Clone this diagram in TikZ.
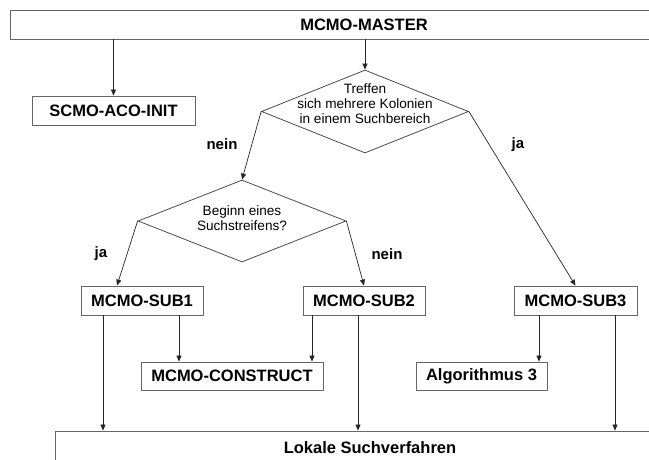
\documentclass[tikz,border=0pt]{standalone}
\usepackage{fontspec}
\setmainfont{Liberation Sans}
\usetikzlibrary{shapes.geometric,arrows.meta}

\begin{document}
\begin{tikzpicture}[x=1pt, y=-1pt,
		kasten/.style={draw=black!60, line width=0.8pt, inner sep=0pt, minimum height=29pt, font=\bfseries\fontsize{16.5}{19}\selectfont},
		raute/.style={draw=black!70, line width=0.8pt, shape=diamond, inner sep=0pt},
		rautetext/.style={align=center, font=\fontsize{13.6}{15}\selectfont},
		antwort/.style={font=\bfseries\fontsize{15}{18}\selectfont},
		pfeil/.style={draw=black!85, line width=0.7pt, -{Triangle[width=5pt,length=6pt]}}]
		
		\useasboundingbox (0,0) rectangle (649,460);
		
		% Hauptmodul oben und lokale Suche unten (laufen über den Rand hinaus)
		\node[kasten, minimum width=708pt] (master) at (364,24.5) {MCMO-MASTER};
		\node[kasten, minimum width=630pt, minimum height=34pt] (lokale) at (370,448) {Lokale Suchverfahren};
		
		% Initialisierung
		\node[kasten, minimum width=163pt] (init) at (113.5,110.5) {SCMO-ACO-INIT};
		
		% Entscheidungen
		\node[raute, minimum width=207pt, minimum height=83pt,
			label={[rautetext, yshift=8pt]center:Treffen\\sich mehrere Kolonien\\in einem Suchbereich}] (treffen) at (365,111.5) {};
		\node[raute, minimum width=208pt, minimum height=82pt,
			label={[rautetext, yshift=3pt]center:Beginn eines\\Suchstreifens?}] (beginn) at (242,221) {};
		
		% Untermodule
		\node[kasten, minimum width=122pt] (sub1) at (142,300.5) {MCMO-SUB1};
		\node[kasten, minimum width=122pt] (sub2) at (364,300.5) {MCMO-SUB2};
		\node[kasten, minimum width=123pt] (sub3) at (575.5,300.5) {MCMO-SUB3};
		\node[kasten, minimum width=182pt, minimum height=28pt] (construct) at (232,376) {MCMO-CONSTRUCT};
		\node[kasten, minimum width=131pt, minimum height=28pt] (alg3) at (481.5,376) {Algorithmus 3};
		
		% Antworten an den Kanten
		\node[antwort] (nein1) at (222,144) {nein};
		\node[antwort] (ja1) at (518,145) {ja};
		\node[antwort] (ja2) at (101,254) {ja};
		\node[antwort] (nein2) at (387,254) {nein};
		
		% Verbindungen
		\draw[pfeil] (master.south -| init.north) -- (init.north);
		\draw[pfeil] (master.south -| treffen.north) -- (treffen.north);
		\draw[pfeil] (treffen.west) -- (beginn.north);
		\draw[pfeil] (treffen.east) -- (sub3.north);
		\draw[pfeil] (beginn.west) -- ([xshift=-25pt]sub1.north);
		\draw[pfeil] (beginn.east) -- (sub2.north);
		
		\draw[pfeil] ([xshift=37pt]sub1.south) -- ([xshift=37pt]sub1.south |- construct.north);
		\draw[pfeil] ([xshift=-52pt]sub2.south) -- ([xshift=-52pt]sub2.south |- construct.north);
		\draw[pfeil] ([xshift=-36.5pt]sub3.south) -- ([xshift=-36.5pt]sub3.south |- alg3.north);
		
		\draw[pfeil] ([xshift=-39pt]sub1.south) -- ([xshift=-39pt]sub1.south |- lokale.north);
		\draw[pfeil] ([xshift=-6pt]sub2.south) -- ([xshift=-6pt]sub2.south |- lokale.north);
		\draw[pfeil] ([xshift=39.5pt]sub3.south) -- ([xshift=39.5pt]sub3.south |- lokale.north);
		
	\end{tikzpicture}
\end{document}
